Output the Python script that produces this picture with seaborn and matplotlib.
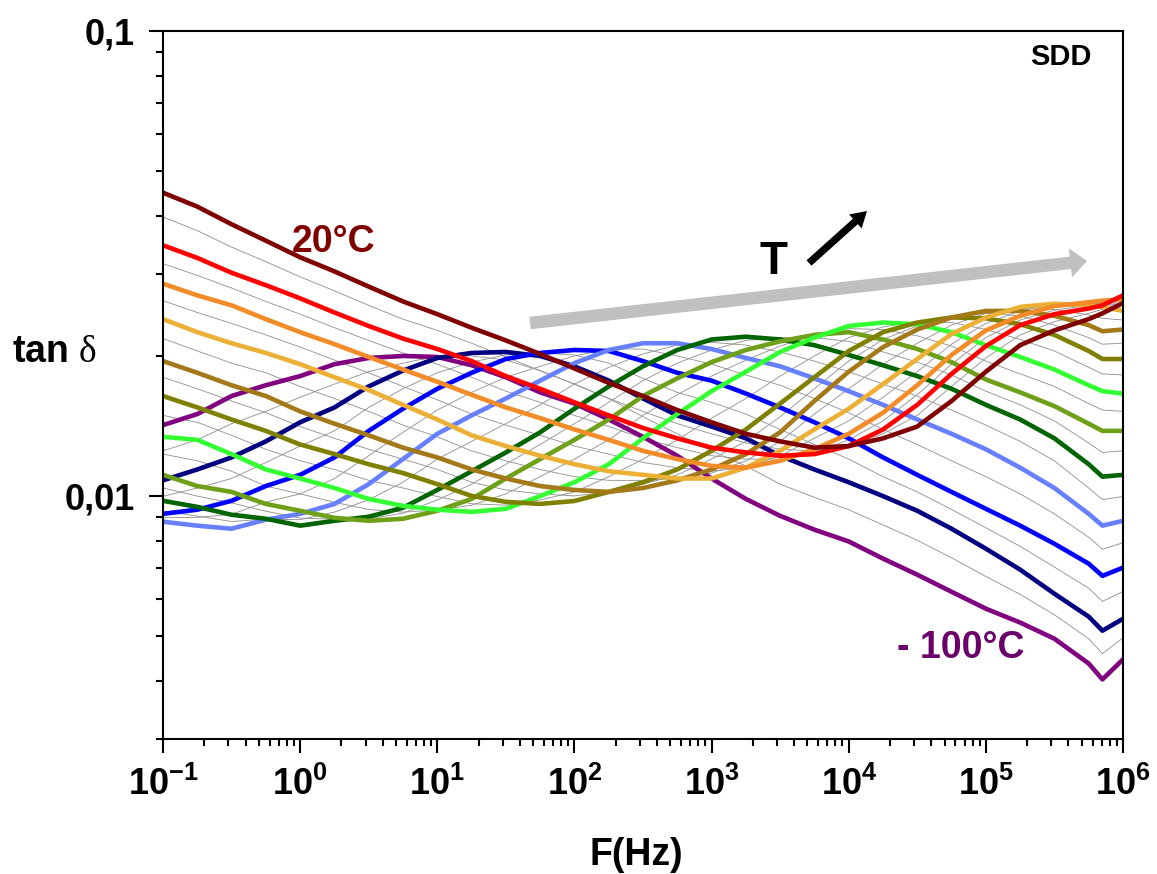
import numpy as np
import pandas as pd
import matplotlib
matplotlib.use("Agg")
import matplotlib.pyplot as plt
import seaborn as sns
from matplotlib.ticker import FixedLocator, FuncFormatter, NullFormatter
from matplotlib.patches import FancyArrowPatch

# ---------------- data ----------------
FREQ_HZ = [0.1, 0.178, 0.316, 0.562, 1.0, 1.78, 3.16, 5.62, 10.0, 17.8, 31.6, 56.2,
           100.0, 178.0, 316.0, 562.0, 1.0e3, 1.78e3, 3.16e3, 5.62e3, 1.0e4, 1.78e4,
           3.16e4, 5.62e4, 1.0e5, 1.78e5, 3.16e5, 5.62e5, 7.08e5, 1.0e6]

TD_M100 = [0.0142,0.0150,0.0164,0.0173,0.0181,0.0192,0.0198,0.0200,0.0199,0.0191,0.0180,0.0167,0.0158,0.0146,0.0134,0.0122,0.0109,0.00985,0.00906,0.00846,0.00798,0.00733,0.00677,0.00622,0.00572,0.00534,0.00493,0.00436,0.00403,0.00445]
TD_M95 = [0.0125,0.0132,0.0143,0.0152,0.0163,0.0174,0.0185,0.0193,0.0200,0.0200,0.0196,0.0186,0.0174,0.0162,0.0148,0.0136,0.0125,0.0116,0.0106,0.00993,0.00934,0.00866,0.00803,0.00736,0.00671,0.00614,0.00555,0.00493,0.00458,0.00495]
TD_M90 = [0.0108,0.0114,0.0121,0.0131,0.0144,0.0155,0.0172,0.0186,0.0198,0.0203,0.0204,0.0200,0.0190,0.0177,0.0162,0.0149,0.0141,0.0133,0.0122,0.0114,0.0107,0.00999,0.00929,0.00850,0.00770,0.00694,0.00616,0.00550,0.00513,0.00544]
TD_M85 = [0.00998,0.0104,0.0109,0.0118,0.0128,0.0138,0.0155,0.0170,0.0184,0.0194,0.0201,0.0203,0.0201,0.0193,0.0179,0.0167,0.0159,0.0150,0.0139,0.0129,0.0120,0.0110,0.0102,0.00935,0.00854,0.00779,0.00703,0.00633,0.00593,0.00623]
TD_M80 = [0.00915,0.00934,0.00976,0.0105,0.0111,0.0121,0.0138,0.0154,0.0170,0.0184,0.0197,0.0203,0.0206,0.0205,0.0195,0.0184,0.0177,0.0166,0.0155,0.0144,0.0133,0.0121,0.0111,0.0102,0.00938,0.00863,0.00789,0.00715,0.00673,0.00701]
TD_M75 = [0.00898,0.00899,0.00913,0.00970,0.0101,0.0109,0.0122,0.0137,0.0153,0.0167,0.0180,0.0190,0.0200,0.0207,0.0207,0.0200,0.0192,0.0182,0.0173,0.0162,0.0151,0.0139,0.0129,0.0119,0.0110,0.0101,0.00915,0.00815,0.00768,0.00793]
TD_M70 = [0.00880,0.00863,0.00850,0.00889,0.00915,0.00961,0.0106,0.0120,0.0136,0.0149,0.0162,0.0177,0.0193,0.0206,0.0213,0.0213,0.0207,0.0198,0.0190,0.0179,0.0168,0.0157,0.0146,0.0136,0.0126,0.0115,0.0104,0.00915,0.00863,0.00884]
TD_M65 = [0.00928,0.00905,0.00881,0.00891,0.00889,0.00923,0.00981,0.0107,0.0120,0.0131,0.0143,0.0157,0.0174,0.0189,0.0202,0.0211,0.0214,0.0211,0.0204,0.0195,0.0185,0.0174,0.0164,0.0153,0.0142,0.0131,0.0119,0.0104,0.00982,0.00997]
TD_M60 = [0.00976,0.00947,0.00911,0.00893,0.00863,0.00884,0.00902,0.00943,0.0103,0.0113,0.0124,0.0137,0.0154,0.0172,0.0190,0.0206,0.0217,0.0220,0.0217,0.0211,0.0201,0.0191,0.0181,0.0170,0.0157,0.0146,0.0133,0.0117,0.0110,0.0111]
TD_M55 = [0.0104,0.00999,0.00966,0.00927,0.00896,0.00891,0.00893,0.00918,0.00980,0.0106,0.0117,0.0129,0.0143,0.0159,0.0177,0.0193,0.0206,0.0216,0.0219,0.0219,0.0215,0.0204,0.0194,0.0182,0.0168,0.0157,0.0145,0.0130,0.0124,0.0125]
TD_M50 = [0.0111,0.0105,0.0102,0.00961,0.00929,0.00897,0.00884,0.00893,0.00929,0.00985,0.0109,0.0120,0.0132,0.0146,0.0164,0.0179,0.0194,0.0206,0.0215,0.0222,0.0225,0.0217,0.0207,0.0194,0.0178,0.0167,0.0156,0.0143,0.0138,0.0138]
TD_M45 = [0.0123,0.0119,0.0113,0.0105,0.0101,0.00969,0.00935,0.00923,0.00932,0.00955,0.0101,0.0110,0.0120,0.0132,0.0149,0.0165,0.0181,0.0196,0.0210,0.0222,0.0229,0.0228,0.0221,0.0210,0.0195,0.0183,0.0172,0.0158,0.0153,0.0152]
TD_M40 = [0.0134,0.0132,0.0123,0.0114,0.0109,0.0104,0.00985,0.00952,0.00934,0.00924,0.00938,0.00999,0.0107,0.0117,0.0133,0.0150,0.0168,0.0185,0.0204,0.0219,0.0232,0.0236,0.0234,0.0225,0.0211,0.0199,0.0187,0.0173,0.0168,0.0166]
TD_M35 = [0.0149,0.0144,0.0135,0.0126,0.0119,0.0114,0.0108,0.0104,0.00997,0.00962,0.00955,0.00980,0.0102,0.0110,0.0120,0.0132,0.0147,0.0162,0.0181,0.0200,0.0219,0.0231,0.0237,0.0236,0.0228,0.0217,0.0205,0.0189,0.0183,0.0182]
TD_M30 = [0.0164,0.0155,0.0146,0.0138,0.0129,0.0123,0.0117,0.0112,0.0106,0.0100,0.00971,0.00961,0.00975,0.0102,0.0107,0.0114,0.0125,0.0139,0.0158,0.0180,0.0205,0.0225,0.0236,0.0242,0.0241,0.0234,0.0222,0.0205,0.0197,0.0197]
TD_M25 = [0.0180,0.0170,0.0160,0.0151,0.0141,0.0133,0.0126,0.0120,0.0114,0.0107,0.0103,0.0101,0.0100,0.0102,0.0106,0.0111,0.0120,0.0131,0.0148,0.0170,0.0195,0.0217,0.0232,0.0244,0.0247,0.0244,0.0233,0.0219,0.0212,0.0213]
TD_M20 = [0.0195,0.0184,0.0173,0.0164,0.0152,0.0143,0.0135,0.0127,0.0121,0.0114,0.0109,0.0105,0.0103,0.0102,0.0104,0.0108,0.0114,0.0123,0.0137,0.0160,0.0185,0.0209,0.0228,0.0242,0.0250,0.0250,0.0244,0.0233,0.0226,0.0228]
TD_M15 = [0.0218,0.0205,0.0193,0.0184,0.0172,0.0162,0.0152,0.0142,0.0134,0.0125,0.0119,0.0114,0.0110,0.0108,0.0108,0.0109,0.0112,0.0119,0.0131,0.0150,0.0170,0.0192,0.0213,0.0233,0.0247,0.0253,0.0252,0.0245,0.0241,0.0239]
TD_M10 = [0.0240,0.0225,0.0213,0.0203,0.0192,0.0180,0.0169,0.0157,0.0146,0.0135,0.0128,0.0122,0.0117,0.0113,0.0111,0.0109,0.0109,0.0115,0.0125,0.0139,0.0154,0.0174,0.0197,0.0223,0.0242,0.0255,0.0259,0.0257,0.0255,0.0250]
TD_M05 = [0.0263,0.0248,0.0235,0.0222,0.0209,0.0196,0.0184,0.0172,0.0161,0.0150,0.0142,0.0135,0.0128,0.0123,0.0118,0.0115,0.0113,0.0115,0.0122,0.0133,0.0145,0.0163,0.0185,0.0212,0.0235,0.0250,0.0258,0.0259,0.0259,0.0258]
TD_P00 = [0.0286,0.0270,0.0257,0.0240,0.0225,0.0212,0.0199,0.0187,0.0176,0.0165,0.0155,0.0147,0.0139,0.0132,0.0125,0.0120,0.0116,0.0115,0.0119,0.0126,0.0136,0.0151,0.0173,0.0201,0.0227,0.0244,0.0256,0.0261,0.0263,0.0265]
TD_P05 = [0.0316,0.0298,0.0280,0.0262,0.0246,0.0230,0.0216,0.0203,0.0192,0.0180,0.0168,0.0159,0.0149,0.0141,0.0133,0.0127,0.0122,0.0120,0.0120,0.0124,0.0132,0.0145,0.0165,0.0192,0.0219,0.0239,0.0251,0.0257,0.0260,0.0268]
TD_P10 = [0.0346,0.0325,0.0302,0.0284,0.0266,0.0248,0.0232,0.0218,0.0207,0.0195,0.0181,0.0170,0.0159,0.0149,0.0140,0.0133,0.0127,0.0124,0.0122,0.0123,0.0128,0.0139,0.0157,0.0183,0.0210,0.0233,0.0246,0.0253,0.0257,0.0270]
TD_P15 = [0.0398,0.0372,0.0343,0.0319,0.0296,0.0276,0.0257,0.0240,0.0227,0.0213,0.0199,0.0186,0.0174,0.0162,0.0152,0.0143,0.0136,0.0130,0.0126,0.0125,0.0128,0.0136,0.0149,0.0172,0.0198,0.0222,0.0237,0.0247,0.0252,0.0265]
TD_P20 = [0.0449,0.0419,0.0384,0.0354,0.0326,0.0304,0.0282,0.0262,0.0246,0.0230,0.0216,0.0202,0.0188,0.0175,0.0164,0.0153,0.0144,0.0136,0.0131,0.0127,0.0128,0.0133,0.0141,0.0160,0.0185,0.0211,0.0227,0.0240,0.0247,0.0260]

COLORED_TEMPS = [-100, -90, -80, -70, -60, -50, -40, -30, -20, -10, 0, 10, 20]
COLORED_SERIES = [TD_M100, TD_M90, TD_M80, TD_M70, TD_M60, TD_M50, TD_M40,
                  TD_M30, TD_M20, TD_M10, TD_P00, TD_P10, TD_P20]
COLORED_HEX = ["#800080", "#000080", "#0000ff", "#6680ff", "#006400", "#6ea01a",
               "#33ff33", "#808000", "#a3791a", "#ebb035", "#f28c28", "#ff0000", "#800000"]

GRAY_TEMPS = [-95, -85, -75, -65, -55, -45, -35, -25, -15, -5, 5, 15]
GRAY_SERIES = [TD_M95, TD_M85, TD_M75, TD_M65, TD_M55, TD_M45, TD_M35,
               TD_M25, TD_M15, TD_M05, TD_P05, TD_P15]

X_DECADES = [-1, 0, 1, 2, 3, 4, 5, 6]
Y_TICKS = [0.01, 0.1]


def to_long(temps, series):
    rows = []
    for t, vals in zip(temps, series):
        for f, v in zip(FREQ_HZ, vals):
            rows.append((t, f, v))
    return pd.DataFrame(rows, columns=["T", "F", "tan_delta"])


col_df = to_long(COLORED_TEMPS, COLORED_SERIES)
gray_df = to_long(GRAY_TEMPS, GRAY_SERIES)
palette = dict(zip(COLORED_TEMPS, COLORED_HEX))

# ---------------- style ----------------
sns.set_style("white")
plt.rcParams["font.family"] = ["Liberation Sans", "DejaVu Sans"]
plt.rcParams["font.weight"] = "bold"
plt.rcParams["text.color"] = "black"
plt.rcParams["axes.labelcolor"] = "black"
plt.rcParams["xtick.color"] = "black"
plt.rcParams["ytick.color"] = "black"
plt.rcParams["mathtext.fontset"] = "custom"
plt.rcParams["mathtext.bf"] = "Liberation Sans:bold"
plt.rcParams["mathtext.rm"] = "Liberation Serif:weight=normal"
plt.rcParams["mathtext.it"] = "Liberation Serif:italic:weight=normal"

W, H = 1157, 874
fig = plt.figure(figsize=(W / 100, H / 100), dpi=100)
ax = fig.add_axes([163 / W, 1 - 739 / H, 960 / W, 708 / H])

sns.lineplot(data=gray_df, x="F", y="tan_delta", units="T", estimator=None,
             color="#959595", linewidth=0.65, sort=False, ax=ax)
sns.lineplot(data=col_df, x="F", y="tan_delta", hue="T", hue_order=COLORED_TEMPS,
             palette=palette, linewidth=3.3, estimator=None, sort=False,
             legend=False, ax=ax)

ax.set_xscale("log")
ax.set_yscale("log")
ax.set_xlim(0.1, 1e6)
ax.set_ylim(0.003, 0.1)

x_major = [10.0 ** d for d in X_DECADES]
x_minor = [m * 10.0 ** d for d in X_DECADES[:-1] for m in range(2, 10)]
y_minor = [m * 10.0 ** d for d in (-3, -2) for m in range(3 if d == -3 else 2, 10)]
ax.xaxis.set_major_locator(FixedLocator(x_major))
ax.xaxis.set_minor_locator(FixedLocator(x_minor))
ax.xaxis.set_major_formatter(FuncFormatter(
    lambda v, p: r"$\mathbf{10^{%d}}$" % int(round(np.log10(v)))))
ax.xaxis.set_minor_formatter(NullFormatter())
ax.yaxis.set_major_locator(FixedLocator(Y_TICKS))
ax.yaxis.set_minor_locator(FixedLocator(y_minor))
ax.yaxis.set_major_formatter(FuncFormatter(lambda v, p: f"{v:g}".replace(".", ",")))
ax.yaxis.set_minor_formatter(NullFormatter())

ax.tick_params(which="both", direction="out", width=1.5, colors="black",
               bottom=True, left=True, top=False, right=False)
ax.tick_params(which="major", length=10, labelsize=26)
ax.tick_params(axis="x", which="major", pad=10)
ax.tick_params(axis="y", which="major", pad=10)
ax.tick_params(which="minor", length=5)
for s in ax.spines.values():
    s.set_linewidth(1.5)
    s.set_color("black")

ax.set_xlabel("F(Hz)", fontsize=27, fontweight="bold", va="baseline", color="black")
ax.xaxis.set_label_coords((636 - 163) / 960, -(865 - 739) / 708)
ax.set_ylabel(r"tan $\mathrm{\delta}$", fontsize=27, fontweight="bold",
              rotation=0, ha="left", va="baseline", color="black")
ax.yaxis.set_label_coords((12 - 163) / 960, (739 - 362) / 708)

# annotations
fig.text(292 / W, 1 - 252 / H, "20°C", color="#800000", fontsize=27,
         fontweight="bold", ha="left", va="baseline")
fig.text(897 / W, 1 - 658 / H, "- 100°C", color="#6a006a", fontsize=27,
         fontweight="bold", ha="left", va="baseline")
fig.text(1030 / W, 1 - 65 / H, "SDD", color="black", fontsize=21,
         fontweight="bold", ha="left", va="baseline")
fig.text(759 / W, 1 - 274 / H, "T", color="black", fontsize=33,
         fontweight="bold", ha="left", va="baseline")

gray_arrow = FancyArrowPatch(posA=(530 / W, 1 - 323 / H), posB=(1087 / W, 1 - 261 / H),
                             transform=fig.transFigure,
                             arrowstyle="simple,tail_width=0.6,head_width=1.4,head_length=0.8",
                             mutation_scale=15, color="#c0c0c0", lw=0,
                             shrinkA=0, shrinkB=0)
fig.add_artist(gray_arrow)
black_arrow = FancyArrowPatch(posA=(809 / W, 1 - 263 / H), posB=(867 / W, 1 - 211 / H),
                              transform=fig.transFigure,
                              arrowstyle="simple,tail_width=0.35,head_width=0.9,head_length=0.75",
                              mutation_scale=15, color="black", lw=0,
                              shrinkA=0, shrinkB=0)
fig.add_artist(black_arrow)

fig.savefig("out.png", dpi=100)
